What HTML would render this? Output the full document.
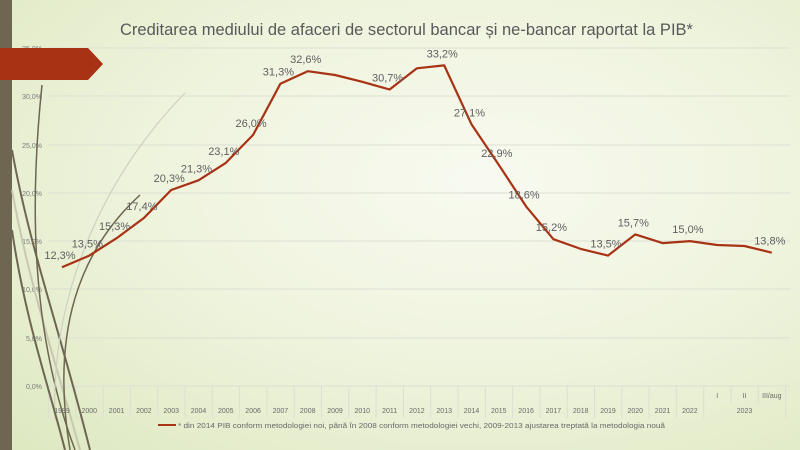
<!DOCTYPE html>
<html><head><meta charset="utf-8"><style>
html,body{margin:0;padding:0;width:800px;height:450px;overflow:hidden}
body{background:radial-gradient(ellipse at 60% 40%,#f8faf0 0%,#eef3dc 50%,#dde8c0 100%);font-family:"Liberation Sans",sans-serif}
</style></head><body>
<svg width="800" height="450" viewBox="0 0 800 450" xmlns="http://www.w3.org/2000/svg" style="position:absolute;left:0;top:0">
<rect x="0" y="0" width="12" height="450" fill="#6e6650"/>
<text x="120" y="35" textLength="573" lengthAdjust="spacingAndGlyphs" font-size="17" fill="#595959">Creditarea mediului de afaceri de sectorul bancar și ne-bancar raportat la PIB*</text>
<g stroke="#dcdfd4" stroke-width="1">
<line x1="48" y1="386" x2="790" y2="386"/><line x1="48" y1="338" x2="790" y2="338"/>
<line x1="48" y1="289" x2="790" y2="289"/><line x1="48" y1="241" x2="790" y2="241"/>
<line x1="48" y1="193" x2="790" y2="193"/><line x1="48" y1="145" x2="790" y2="145"/>
<line x1="48" y1="96" x2="790" y2="96"/><line x1="48" y1="48" x2="790" y2="48"/>
</g>
<g id="vt" stroke="#dcdfd4" stroke-width="1"></g>
<g font-size="7" fill="#7a7a7a" text-anchor="end">
<text x="42" y="389">0,0%</text><text x="42" y="341">5,0%</text><text x="42" y="292">10,0%</text>
<text x="42" y="244">15,0%</text><text x="42" y="196">20,0%</text><text x="42" y="148">25,0%</text>
<text x="42" y="99">30,0%</text><text x="42" y="51">35,0%</text>
</g>
<g fill="none">
<path d="M12 150 C30 250 60 330 90 450" stroke="#6e6650" stroke-width="2"/>
<path d="M12 190 C28 280 55 360 80 450" stroke="#c8c8b0" stroke-width="2"/>
<path d="M42 85 C30 200 30 330 75 450" stroke="#6e6650" stroke-width="1.5"/>
<path d="M140 195 C80 250 50 330 70 450" stroke="#6e6650" stroke-width="1.5"/>
<path d="M185 93 C100 180 50 300 55 420" stroke="#d0d0c0" stroke-width="1.2"/>
<path d="M12 230 C25 320 50 390 65 450" stroke="#6e6650" stroke-width="2"/>
</g>
<polygon points="0,48 88,48 103,64 88,80 0,80" fill="#a83214"/>
<polyline id="ln" fill="none" stroke="#a83214" stroke-width="2.2" stroke-linejoin="round"/>
<g id="lb" font-size="11" fill="#606060" text-anchor="middle"></g>
<g id="xl" font-size="7" fill="#6a6a6a" text-anchor="middle"></g>
<line x1="158" y1="425" x2="176" y2="425" stroke="#a83214" stroke-width="2"/>
<text x="178" y="428" textLength="487" lengthAdjust="spacingAndGlyphs" font-size="7" fill="#6a6a6a">* din 2014 PIB conform metodologiei noi, până în 2008 conform metodologiei vechi, 2009-2013 ajustarea treptată la metodologia nouă</text>
</svg>
<script>
var v=[12.3,13.5,15.3,17.4,20.3,21.3,23.1,26.0,31.3,32.6,32.2,31.5,30.7,32.9,33.2,27.1,22.9,18.6,15.2,14.2,13.5,15.7,14.8,15.0,14.6,14.5,13.8];
var lbl={0:"12,3%",1:"13,5%",2:"15,3%",3:"17,4%",4:"20,3%",5:"21,3%",6:"23,1%",7:"26,0%",8:"31,3%",9:"32,6%",12:"30,7%",14:"33,2%",15:"27,1%",16:"22,9%",17:"18,6%",18:"15,2%",20:"13,5%",21:"15,7%",23:"15,0%",26:"13,8%"};
var ns="http://www.w3.org/2000/svg",pts=[];
function X(i){return 62+27.3*i}function Y(x){return 386-x*9.657}
for(var i=0;i<v.length;i++){pts.push(X(i).toFixed(1)+","+Y(v[i]).toFixed(1));
if(lbl[i]){var t=document.createElementNS(ns,"text");t.setAttribute("x",X(i)-2);t.setAttribute("y",Y(v[i])-8);t.textContent=lbl[i];document.getElementById("lb").appendChild(t);}
if(i<24){var t2=document.createElementNS(ns,"text");t2.setAttribute("x",X(i));t2.setAttribute("y",413);t2.textContent=1999+i;document.getElementById("xl").appendChild(t2);}
}
document.getElementById("ln").setAttribute("points",pts.join(" "));
var xl=document.getElementById("xl");
[["I",24],["II",25],["III/aug",26]].forEach(function(a){var t=document.createElementNS(ns,"text");t.setAttribute("x",X(a[1]));t.setAttribute("y",398);t.textContent=a[0];xl.appendChild(t);});
var t=document.createElementNS(ns,"text");t.setAttribute("x",X(25));t.setAttribute("y",413);t.textContent="2023";xl.appendChild(t);
var vt=document.getElementById("vt");
for(var k=0;k<=27;k++){var x=48.5+27.3*k;var l=document.createElementNS(ns,"line");l.setAttribute("x1",x);l.setAttribute("x2",x);l.setAttribute("y1",386);l.setAttribute("y2",k==25||k==26?403:418);vt.appendChild(l);}
</script>
</body></html>
